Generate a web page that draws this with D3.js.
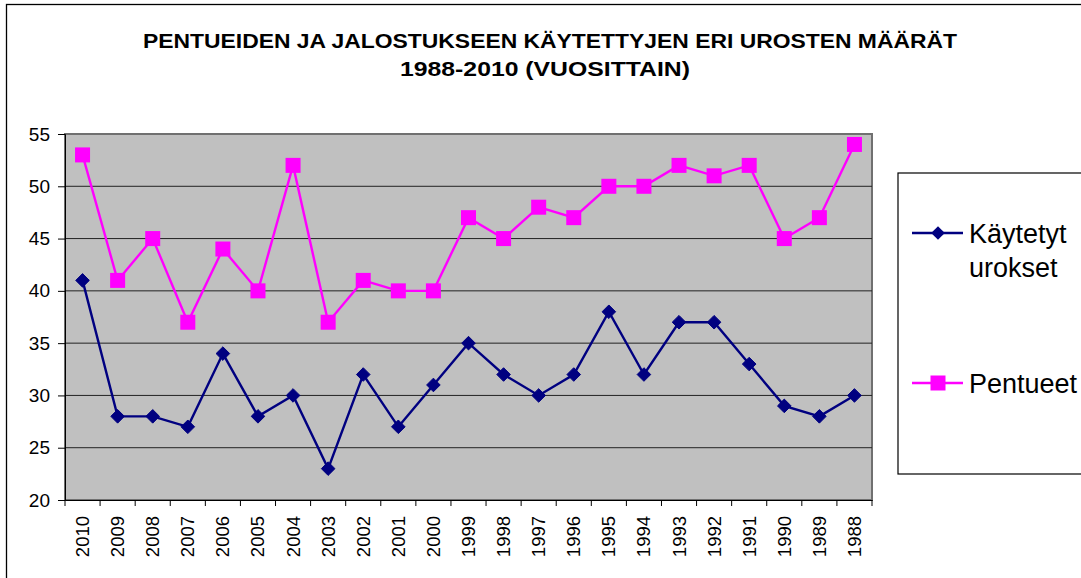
<!DOCTYPE html>
<html lang="fi">
<head>
<meta charset="UTF-8">
<title>Pentueet ja urokset</title>
<script src="https://d3js.org/d3.v7.min.js"></script>
<style>
  body { margin: 0; background: #fff; }
  svg { display: block; font-family: "Liberation Sans", Arial, sans-serif; }
</style>
</head>
<body>
<svg width="1081" height="578"></svg>
<script>
const years = ["2010","2009","2008","2007","2006","2005","2004","2003","2002","2001","2000","1999","1998","1997","1996","1995","1994","1993","1992","1991","1990","1989","1988"];
const urokset = [41,28,28,27,34,28,30,23,32,27,31,35,32,30,32,38,32,37,37,33,29,28,30];
const pentueet = [53,41,45,37,44,40,52,37,41,40,40,47,45,48,47,50,50,52,51,52,45,47,54];
const yTicks = [20,25,30,35,40,45,50,55];

const svg = d3.select("svg");

// outer frame
svg.append("rect").attr("x", 6.5).attr("y", 4.5).attr("width", 1100).attr("height", 600)
  .attr("fill", "#fff").attr("stroke", "#000").attr("stroke-width", 1.3);

// title
svg.append("text").attr("x", 550).attr("y", 48).attr("text-anchor", "middle")
  .attr("font-size", 21).attr("font-weight", "bold")
  .attr("textLength", 814).attr("lengthAdjust", "spacingAndGlyphs")
  .text("PENTUEIDEN JA JALOSTUKSEEN KÄYTETTYJEN ERI UROSTEN MÄÄRÄT");
svg.append("text").attr("x", 545).attr("y", 76).attr("text-anchor", "middle")
  .attr("font-size", 21).attr("font-weight", "bold")
  .attr("textLength", 290).attr("lengthAdjust", "spacingAndGlyphs")
  .text("1988-2010 (VUOSITTAIN)");

const pLeft = 65, pRight = 872, pTop = 134, pBottom = 500;
const x = d3.scaleBand().domain(years).range([pLeft, pRight]);
const y = d3.scaleLinear().domain([20, 55]).range([pBottom, pTop]);

// plot area
svg.append("rect").attr("x", pLeft).attr("y", pTop).attr("width", pRight - pLeft).attr("height", pBottom - pTop)
  .attr("fill", "#c0c0c0").attr("stroke", "#707070").attr("stroke-width", 2);

// gridlines
svg.append("g").selectAll("line").data(yTicks.slice(1, -1)).join("line")
  .attr("x1", pLeft).attr("x2", pRight).attr("y1", d => y(d)).attr("y2", d => y(d))
  .attr("stroke", "#222").attr("stroke-width", 1);

// y axis
const yAxis = svg.append("g").attr("transform", `translate(${pLeft},0)`)
  .call(d3.axisLeft(y).tickValues(yTicks).tickSize(7).tickPadding(8));
yAxis.select(".domain").attr("stroke", "#000");
yAxis.selectAll("text").attr("font-size", 19).attr("font-family", "Liberation Sans, Arial, sans-serif").attr("fill", "#000");

// x axis
const xAxis = svg.append("g").attr("transform", `translate(0,${pBottom})`)
  .call(d3.axisBottom(x).tickSize(0).tickFormat(""));
xAxis.select(".domain").attr("stroke", "#000");
svg.append("g").selectAll("line").data(years.concat([null])).join("line")
  .attr("x1", (d, i) => pLeft + i * x.step()).attr("x2", (d, i) => pLeft + i * x.step())
  .attr("y1", pBottom).attr("y2", pBottom + 6).attr("stroke", "#000");
svg.append("g").selectAll("text").data(years).join("text")
  .attr("transform", d => `translate(${x(d) + x.bandwidth() / 2 + 6.5},${pBottom + 16}) rotate(-90)`)
  .attr("text-anchor", "end").attr("font-size", 18.5).text(d => d);

const line = d3.line().x((d, i) => x(years[i]) + x.bandwidth() / 2).y(d => y(d));

// pentueet
svg.append("path").datum(pentueet).attr("d", line).attr("fill", "none")
  .attr("stroke", "#ff00ff").attr("stroke-width", 2.4);
svg.append("g").selectAll("rect").data(pentueet).join("rect")
  .attr("x", (d, i) => x(years[i]) + x.bandwidth() / 2 - 7.5)
  .attr("y", d => y(d) - 7.5).attr("width", 15).attr("height", 15).attr("fill", "#ff00ff");

// urokset
svg.append("path").datum(urokset).attr("d", line).attr("fill", "none")
  .attr("stroke", "#000080").attr("stroke-width", 2.4);
const diamond = d3.symbol().type(d3.symbolDiamond2).size(118);
svg.append("g").selectAll("path").data(urokset).join("path")
  .attr("transform", (d, i) => `translate(${x(years[i]) + x.bandwidth() / 2},${y(d)})`)
  .attr("d", diamond).attr("fill", "#000080")
  .attr("stroke", "#000080").attr("stroke-width", 1).attr("stroke-linejoin", "round");

// legend
svg.append("rect").attr("x", 898).attr("y", 173).attr("width", 200).attr("height", 301)
  .attr("fill", "#fff").attr("stroke", "#000").attr("stroke-width", 1.2);
const lg = svg.append("g");
lg.append("line").attr("x1", 912).attr("x2", 963).attr("y1", 233).attr("y2", 233)
  .attr("stroke", "#000080").attr("stroke-width", 2.4);
lg.append("path").attr("transform", "translate(938,233)").attr("d", diamond).attr("fill", "#000080");
lg.append("text").attr("x", 969).attr("y", 243).attr("font-size", 27).text("Käytetyt");
lg.append("text").attr("x", 969).attr("y", 277).attr("font-size", 27).text("urokset");
lg.append("line").attr("x1", 912).attr("x2", 963).attr("y1", 383).attr("y2", 383)
  .attr("stroke", "#ff00ff").attr("stroke-width", 2.4);
lg.append("rect").attr("x", 930.5).attr("y", 375.5).attr("width", 15).attr("height", 15).attr("fill", "#ff00ff");
lg.append("text").attr("x", 969).attr("y", 393).attr("font-size", 27).text("Pentueet");
</script>
</body>
</html>
